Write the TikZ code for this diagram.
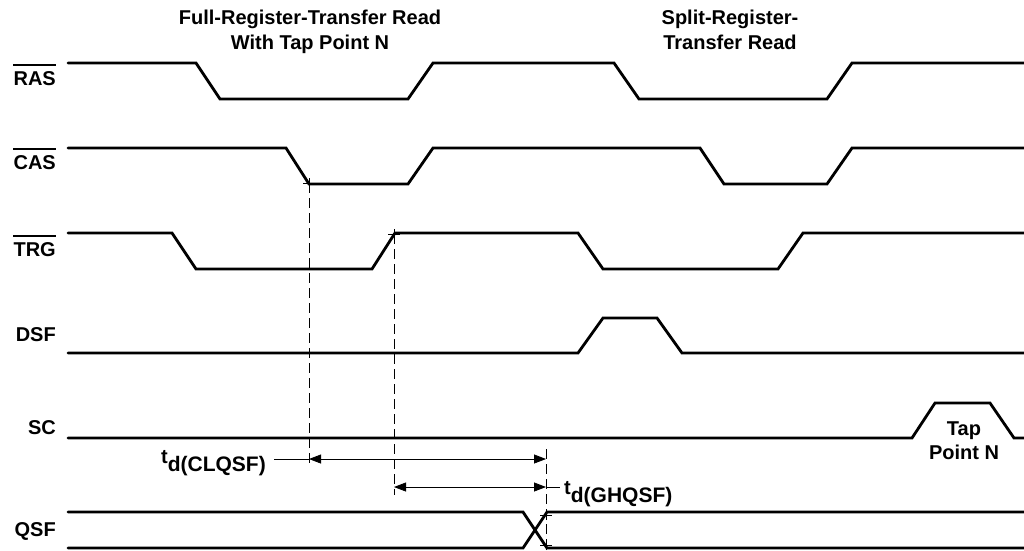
\documentclass[tikz,border=0pt]{standalone}
\usepackage{fontspec}
\setmainfont{Liberation Sans}
\usetikzlibrary{calc}
\usetikzlibrary{arrows.meta}
\newcommand\tdsub[1]{t\raisebox{-8pt}{\fontsize{21}{24}\selectfont #1}}

\begin{document}
\begin{tikzpicture}[x=1pt,y=-1pt,
  wave/.style={black,line width=2.8pt,line cap=round},
  sig/.style={anchor=east,inner sep=0pt,font=\fontsize{20}{24}\selectfont\bfseries},
  ttl/.style={anchor=north,inner sep=0pt,align=center,font=\fontsize{20}{25}\selectfont\bfseries},
  guide/.style={black,line width=0.8pt,dash pattern=on 10pt off 5pt},
  dim/.style={black,line width=0.8pt,{Triangle[length=12pt,width=9pt]}-{Triangle[length=12pt,width=9pt]}},
  lead/.style={black,line width=0.8pt}]

\useasboundingbox (0,0) rectangle (1024,550);

% titles
\node[ttl] (full) at (310,10) {Full-Register-Transfer Read\\With Tap Point N};
\node[ttl] (split) at (730,10) {Split-Register-\\Transfer Read};

% signal names
\node[sig] (ras) at (56,79) {RAS};
\node[sig] (cas) at (56,163) {CAS};
\node[sig] (trg) at (56,250) {TRG};
\node[sig] (dsf) at (56,335) {DSF};
\node[sig] (sc) at (56,428) {SC};
\node[sig] (qsf) at (56,531) {QSF};
\draw[line width=2pt] ([yshift=7pt]ras.north west) -- ([yshift=7pt]ras.north east);
\draw[line width=2pt] ([yshift=7pt]cas.north west) -- ([yshift=7pt]cas.north east);
\draw[line width=2pt] ([yshift=7pt]trg.north west) -- ([yshift=7pt]trg.north east);

% waveforms
\draw[wave] (68,63) -- (196,63) -- (220,99) -- (408,99) -- (433,63) -- (614,63) -- (639,99) -- (827,99) -- (852,63) -- (1030,63);
\draw[wave] (68,148) -- (286,148) -- (309,184) -- (408,184) -- (433,148) -- (700,148) -- (724,184) -- (827,184) -- (852,148) -- (1030,148);
\draw[wave] (68,233) -- (172,233) -- (196,269) -- (372,269) -- (395,233) -- (578,233) -- (603,269) -- (778,269) -- (803,233) -- (1030,233);
\draw[wave] (68,353) -- (578,353) -- (603,318) -- (657,318) -- (682,353) -- (1030,353);
\draw[wave] (68,438) -- (912,438) -- (935,403) -- (990,403) -- (1014,438) -- (1030,438);
\draw[wave] (68,512) -- (523,512) -- (547,548) -- (1030,548);
\draw[wave] (68,548) -- (523,548) -- (547,512) -- (1030,512);

\node[ttl,font=\fontsize{20}{24}\selectfont\bfseries] (tap) at (964,422) {Tap\\Point N};

% timing references
\coordinate (casL) at (309,183);
\coordinate (trgH) at (394,234);
\coordinate (qsfT) at (546,515);
\coordinate (qsfB) at (546,545);
\coordinate (arrA) at (546,459);
\coordinate (arrB) at (546,487);

\draw[guide] (casL) -- ([yshift=-7pt]casL |- arrA);
\draw[guide] (trgH) -- ([yshift=-8pt]trgH |- arrB);
\draw[guide] ([yshift=10pt]arrA) -- (qsfB);

\draw[dim] (casL |- arrA) -- (arrA);
\draw[dim] (trgH |- arrB) -- (arrB);

\node[anchor=base east,inner sep=0pt,font=\fontsize{20}{24}\selectfont\bfseries] (clq) at (266,463) {\tdsub{d(CLQSF)}};
\node[anchor=base west,inner sep=0pt,font=\fontsize{20}{24}\selectfont\bfseries] (ghq) at (564,494) {\tdsub{d(GHQSF)}};
\draw[lead] ([xshift=8pt]clq.east |- arrA) -- (casL |- arrA);
\draw[lead] (arrB) -- ([xshift=-4pt]ghq.west |- arrB);

\foreach \p in {casL,trgH,qsfT,qsfB}
  \draw[lead] ([xshift=-6pt]\p) -- ([xshift=6pt]\p) ([yshift=-5pt]\p) -- ([yshift=5pt]\p);

\end{tikzpicture}
\end{document}
